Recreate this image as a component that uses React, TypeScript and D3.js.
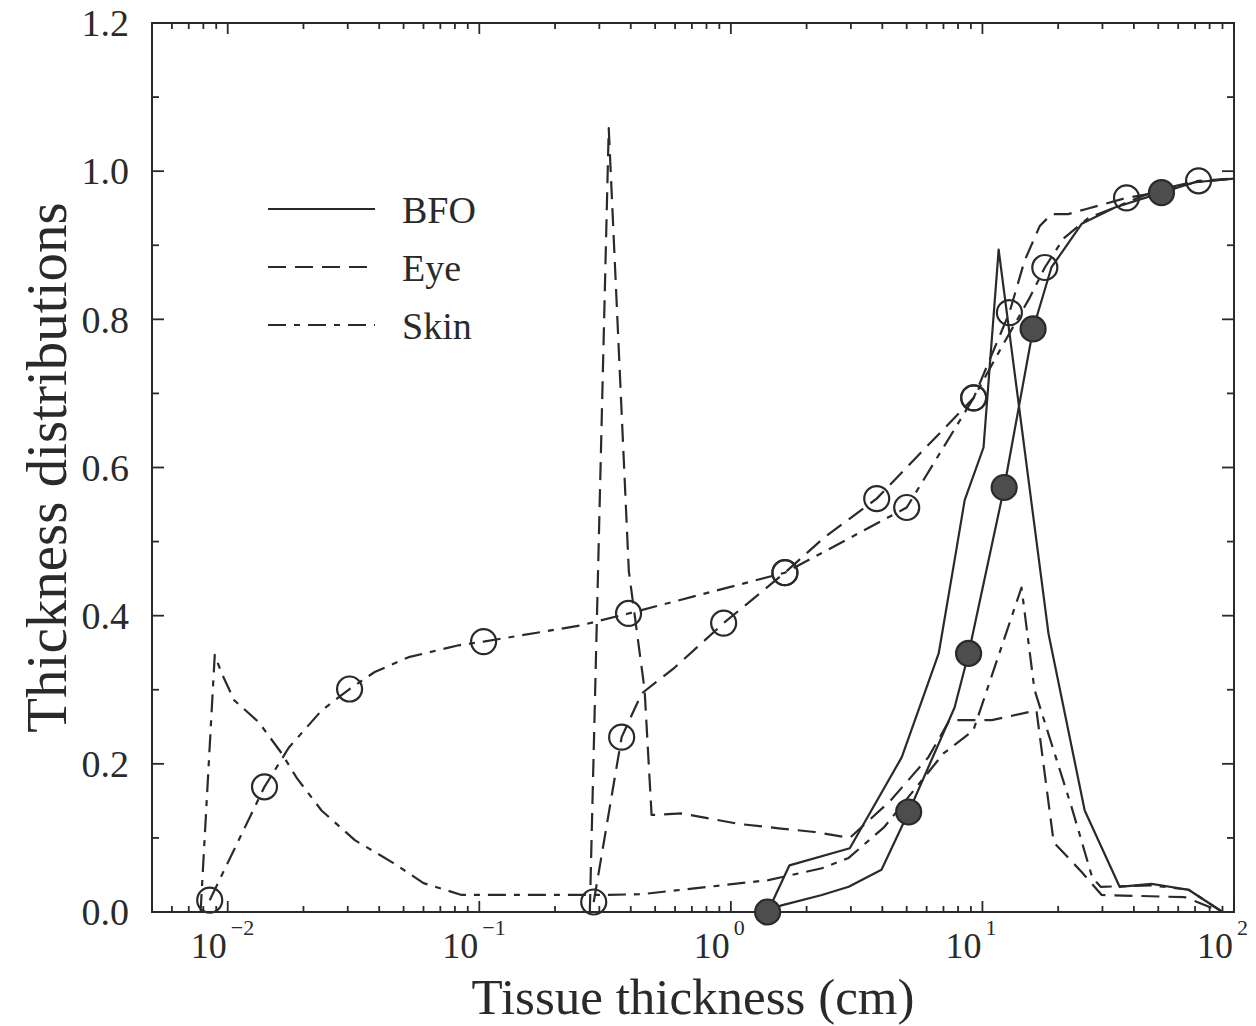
import React from "react";
import { scaleLog, scaleLinear, line, format, range } from "d3";

// ---- data ----
// BFO distribution (solid)
const bfoDistX = [1.4, 1.71, 2.97, 4.78, 6.7, 7.75, 8.5, 10.1, 11.6, 18.3, 25.5, 35.1, 47, 66, 90];
const bfoDistY = [0, 0.063, 0.086, 0.209, 0.349, 0.475, 0.556, 0.627, 0.894, 0.376, 0.137, 0.034, 0.038, 0.03, 0];

// BFO cumulative (solid, filled circles)
const bfoCumX = [1.4, 1.59, 2.3, 2.94, 3.97, 5.09, 7.75, 8.81, 12.2, 15.9, 18.8, 24.8, 33.6, 51.5, 69.7, 100];
const bfoCumY = [0, 0.009, 0.023, 0.034, 0.057, 0.135, 0.276, 0.349, 0.573, 0.787, 0.87, 0.929, 0.951, 0.971, 0.985, 0.99];
const bfoCumMarks = [0, 5, 7, 8, 9, 13];

// Eye distribution (dashed)
const eyeDistX = [0.275, 0.327, 0.393, 0.454, 0.484, 0.637, 1.07, 1.55, 2.15, 2.97, 4.3, 6.1, 7.4, 10.9, 16.4, 19.2, 24.8, 29.8, 63.7, 90];
const eyeDistY = [0, 1.058, 0.46, 0.3, 0.131, 0.133, 0.119, 0.113, 0.108, 0.1, 0.15, 0.209, 0.259, 0.259, 0.272, 0.094, 0.054, 0.023, 0.02, 0];

// Eye cumulative (dashed, open circles)
const eyeCumX = [0.285, 0.368, 0.442, 0.598, 0.766, 0.936, 1.64, 2.36, 3.8, 9.23, 12.8, 14.7, 16.9, 18.8, 21.9, 25.9, 37.4, 52, 70, 100];
const eyeCumY = [0.0135, 0.236, 0.295, 0.33, 0.363, 0.39, 0.458, 0.506, 0.558, 0.694, 0.809, 0.879, 0.926, 0.942, 0.942, 0.949, 0.964, 0.972, 0.985, 0.99];
const eyeCumMarks = [0, 1, 5, 6, 8, 9, 10, 16];

// Skin distribution (dash-dot)
const skinDistX = [0.0078, 0.00888, 0.00947, 0.0106, 0.0133, 0.0164, 0.0188, 0.0236, 0.032, 0.0456, 0.06, 0.0851, 0.3, 0.44, 0.637, 1.41, 2.3, 2.94, 4.08, 7.0, 9.2, 14.3, 16.1, 22.6, 27.3, 29.5, 47, 66, 90];
const skinDistY = [0, 0.347, 0.322, 0.286, 0.256, 0.214, 0.181, 0.137, 0.097, 0.066, 0.039, 0.023, 0.023, 0.024, 0.03, 0.043, 0.059, 0.073, 0.115, 0.214, 0.245, 0.438, 0.3, 0.142, 0.047, 0.034, 0.036, 0.03, 0];

// Skin cumulative (dash-dot, open circles)
const skinCumX = [0.00848, 0.014, 0.0175, 0.0236, 0.0305, 0.0384, 0.0524, 0.0828, 0.104, 0.177, 0.254, 0.392, 1.64, 5.0, 9.23, 11.9, 15.4, 17.7, 21.0, 26.4, 33.6, 50, 72.3, 100];
const skinCumY = [0.016, 0.169, 0.222, 0.272, 0.301, 0.324, 0.344, 0.36, 0.365, 0.378, 0.387, 0.403, 0.458, 0.546, 0.694, 0.762, 0.829, 0.87, 0.909, 0.937, 0.951, 0.975, 0.987, 0.99];
const skinCumMarks = [0, 1, 4, 8, 11, 12, 13, 14, 17, 22];

const yTicks = range(0, 13).map((i) => i / 10);
const decades = [-2, -1, 0, 1, 2];
const legendNames = ["BFO", "Eye", "Skin"];

const FONT = "'Liberation Serif', 'DejaVu Serif', serif";
const INK = "#2a2a2a";
const EYE_DASH = "18,9";
const SKIN_DASH = "18,8,6,8";

const xScale = scaleLog().domain([0.005, 100]).range([152, 1234]);
const yScale = scaleLinear().domain([0, 1.2]).range([912, 23]);

const makePath = (xs, ys) =>
  line()
    .x((_, i) => xScale(xs[i]))
    .y((d) => yScale(d))(ys);

const Curve = ({ xs, ys, dash }) => (
  <path d={makePath(xs, ys)} fill="none" stroke={INK} strokeWidth={2.2}
    strokeDasharray={dash} strokeLinejoin="round" />
);

const Marks = ({ xs, ys, idx, filled }) => (
  <>
    {idx.map((i) => (
      <circle key={`m-${i}`} cx={xScale(xs[i])} cy={yScale(ys[i])} r={12.5}
        fill={filled ? "#4d4d4d" : "none"} stroke={INK} strokeWidth={2.2} />
    ))}
  </>
);

const Axes = () => {
  const x0 = 152, x1 = 1234, y0 = 912, y1 = 23;
  const logTicks = [];
  for (let d = -3; d <= 2; d++) {
    for (let k = 1; k <= 9; k++) {
      const v = k * Math.pow(10, d);
      if (v >= 0.005 && v <= 100.0001) logTicks.push({ v, major: k === 1 });
    }
  }
  const fmt = format(".1f");
  return (
    <g stroke={INK} strokeWidth={1.8}>
      <rect x={x0} y={y1} width={x1 - x0} height={y0 - y1} fill="none" strokeWidth={2} />
      {logTicks.map(({ v, major }) => {
        const x = xScale(v);
        const len = major ? 11 : 6;
        return (
          <g key={`xt-${v}`}>
            <line x1={x} x2={x} y1={y0} y2={y0 - len} />
            <line x1={x} x2={x} y1={y1} y2={y1 + len} />
          </g>
        );
      })}
      {yTicks.map((v, i) => {
        const y = yScale(v);
        const len = i % 2 === 0 ? 12 : 7;
        return (
          <g key={`yt-${i}`}>
            <line x1={x0} x2={x0 + len} y1={y} y2={y} />
            <line x1={x1} x2={x1 - len} y1={y} y2={y} />
          </g>
        );
      })}
      <g stroke="none" fill={INK} fontFamily={FONT}>
        {yTicks.filter((_, i) => i % 2 === 0).map((v) => (
          <text key={`yl-${v}`} x={129} y={yScale(v)} dy="0.35em" fontSize={38} textAnchor="end">
            {fmt(v)}
          </text>
        ))}
        {decades.map((d) => {
          const x = xScale(Math.pow(10, d));
          return (
            <g key={`xl-${d}`}>
              <text x={x - 1} y={958} fontSize={36} textAnchor="end">10</text>
              <text x={x + 3} y={935} fontSize={22}>{d < 0 ? `\u2212${-d}` : d}</text>
            </g>
          );
        })}
        <text x={(x0 + x1) / 2} y={1014} fontSize={51} textAnchor="middle">
          Tissue thickness (cm)
        </text>
        <text transform={`translate(66, ${(y0 + y1) / 2}) rotate(-90)`} fontSize={57} textAnchor="middle">
          Thickness distributions
        </text>
      </g>
    </g>
  );
};

const Legend = () => {
  const dashes = [undefined, EYE_DASH, SKIN_DASH];
  return (
    <g>
      {legendNames.map((name, i) => {
        const y = 209 + i * 58;
        return (
          <g key={name}>
            <line x1={268} x2={375} y1={y} y2={y} stroke={INK} strokeWidth={2.2} strokeDasharray={dashes[i]} />
            <text x={402} y={y + 14} fontSize={38} fontFamily={FONT} fill={INK}>{name}</text>
          </g>
        );
      })}
    </g>
  );
};

const App = () => {
  return (
    <svg width={1256} height={1026} style={{ position: "absolute", left: 0, top: 0, background: "#fff" }}>
      <Axes />
      <Curve xs={bfoDistX} ys={bfoDistY} />
      <Curve xs={bfoCumX} ys={bfoCumY} />
      <Curve xs={eyeDistX} ys={eyeDistY} dash={EYE_DASH} />
      <Curve xs={eyeCumX} ys={eyeCumY} dash={EYE_DASH} />
      <Curve xs={skinDistX} ys={skinDistY} dash={SKIN_DASH} />
      <Curve xs={skinCumX} ys={skinCumY} dash={SKIN_DASH} />
      <Marks xs={eyeCumX} ys={eyeCumY} idx={eyeCumMarks} filled={false} />
      <Marks xs={skinCumX} ys={skinCumY} idx={skinCumMarks} filled={false} />
      <Marks xs={bfoCumX} ys={bfoCumY} idx={bfoCumMarks} filled={true} />
      <Legend />
    </svg>
  );
};

export default App;
